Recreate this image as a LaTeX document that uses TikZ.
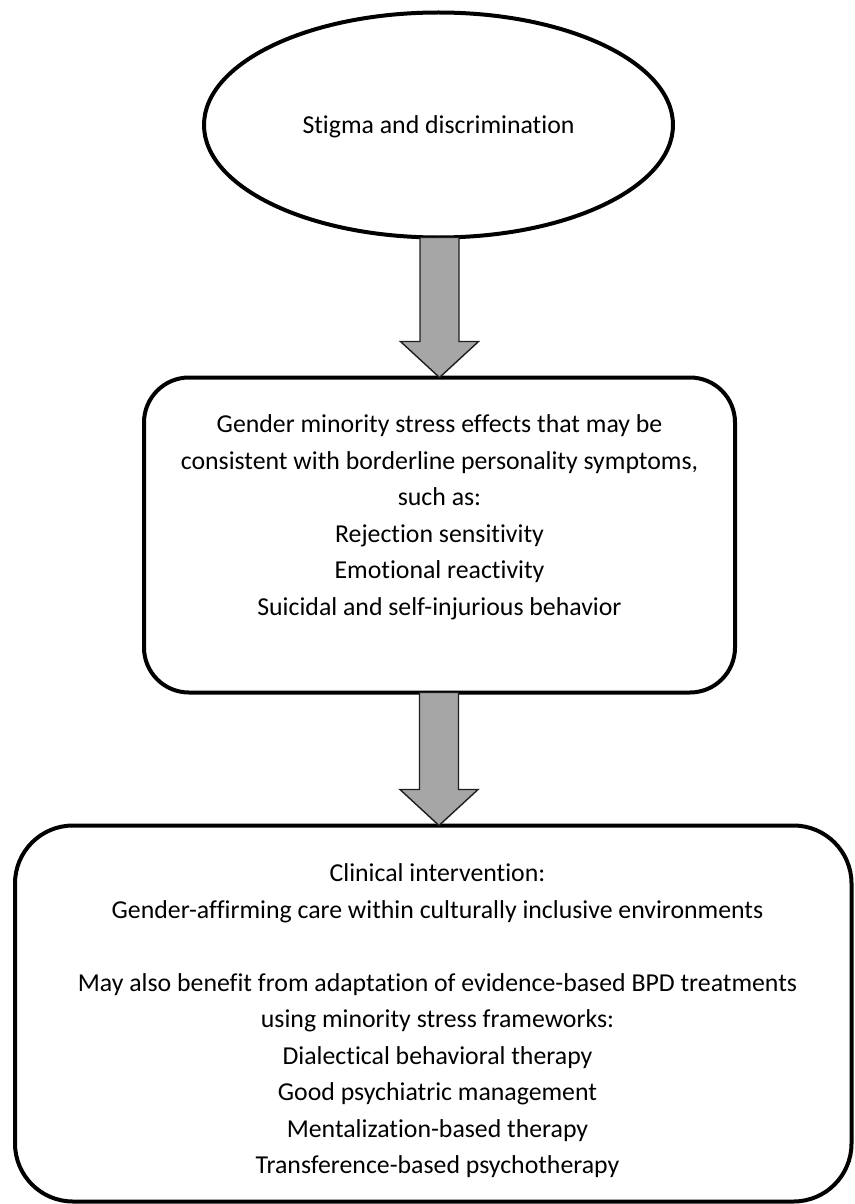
\documentclass[tikz,border=0pt]{standalone}
\usepackage{fontspec}
\setmainfont{Carlito}[Ligatures=NoCommon]
\usetikzlibrary{shapes.geometric,calc}
\definecolor{arrowfill}{RGB}{166,166,166}
\definecolor{arrowline}{RGB}{30,30,30}
\tikzset{
  boxline/.style={draw=black, line width=4pt, fill=white},
  ovalbox/.style={boxline, ellipse, inner sep=0pt, outer sep=0pt, minimum width=469pt, minimum height=225pt},
  midbox/.style={boxline, rectangle, rounded corners=45pt, inner sep=0pt, outer sep=0pt, minimum width=591pt, minimum height=315pt},
  lowbox/.style={boxline, rectangle, rounded corners=58pt, inner sep=0pt, outer sep=0pt, minimum width=836.5pt, minimum height=376pt},
  txt/.style={align=center, inner sep=0pt, font=\fontsize{25.8}{36.5}\selectfont, text=black},
  blockarrow/.style={draw=arrowline, line width=1.4pt, fill=arrowfill, line join=miter},
}
\newcommand{\bArrowDraw}[2]{%
  \path[blockarrow] let \p1=(#1), \p2=(#2) in
    (\x1-19.5pt,\y1) -- (\x1-19.5pt,\y2+36pt) -- (\x1-39pt,\y2+36pt) -- (\x1,\y2)
    -- (\x1+39pt,\y2+36pt) -- (\x1+19.5pt,\y2+36pt) -- (\x1+19.5pt,\y1) -- cycle;}
\begin{document}
\begin{tikzpicture}[x=1pt,y=-1pt]
\useasboundingbox (0,0) rectangle (854,1204);
\node[ovalbox] (ell) at (438.5,125) {};
\node[txt] (elltxt) at (438.5,127) {Stigma and discrimination};
\node[midbox] (mid) at (439.5,535) {};
\node[txt] (midtxt) at (439.5,517) {Gender minority stress effects that may be\\
consistent with borderline personality symptoms,\\
such as:\\
Rejection sensitivity\\
Emotional reactivity\\
Suicidal and self-injurious behavior};
\node[lowbox] (low) at (433.25,1013.5) {};
\node[txt] (lowtxt) at (437.5,1021) {Clinical intervention:\\
Gender-affirming care within culturally inclusive environments\\
\\
May also benefit from adaptation of evidence-based BPD treatments\\
using minority stress frameworks:\\
Dialectical behavioral therapy\\
Good psychiatric management\\
Mentalization-based therapy\\
Transference-based psychotherapy};
\coordinate (a1s) at (439.5,237.5);
\coordinate (a2s) at (439,692.5);
\bArrowDraw{a1s}{mid.north}
\bArrowDraw{a2s}{low.north}
\end{tikzpicture}
\end{document}
